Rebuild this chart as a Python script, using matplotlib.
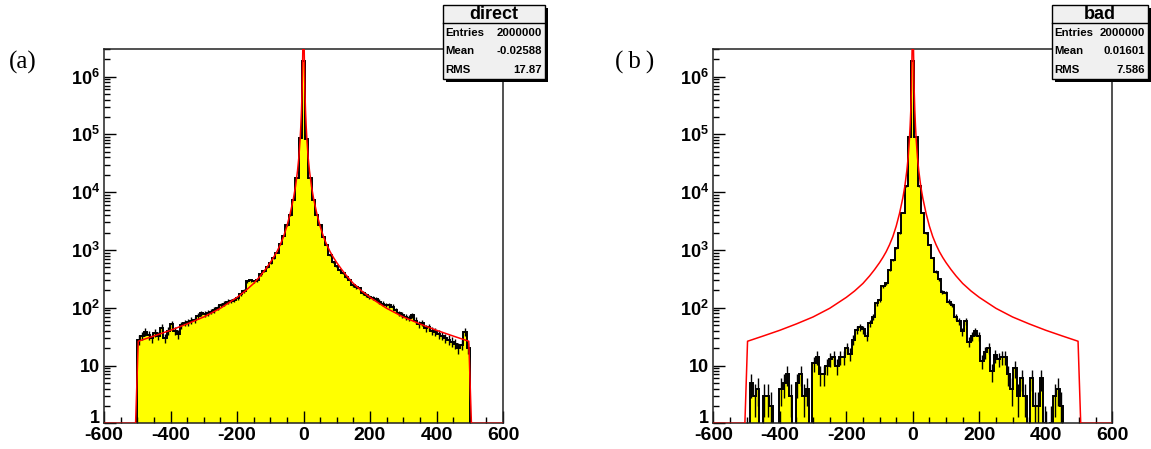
import numpy as np
import matplotlib
matplotlib.use("Agg")
import matplotlib.pyplot as plt
import matplotlib.transforms as mtransforms
from matplotlib.patches import Rectangle
from matplotlib.lines import Line2D
from matplotlib.ticker import FixedLocator, FixedFormatter, MultipleLocator, LogLocator, NullFormatter

plt.rcParams["font.family"] = ["Liberation Sans", "DejaVu Sans"]
plt.rcParams["mathtext.fontset"] = "custom"
plt.rcParams["mathtext.rm"] = "Liberation Sans"
plt.rcParams["mathtext.bf"] = "Liberation Sans:bold"
plt.rcParams["axes.unicode_minus"] = False

W, H = 1151, 449

# binning: 121 bins over [-600, 600], only the middle 101 are filled
N_BINS, X_LO, X_HI = 121, -600.0, 600.0
FIRST_BIN = 10

# bin contents, left to right (bin centres -496 ... +496)
direct_counts = [
    28, 33, 38, 34, 30, 37, 33, 45, 30, 40,
    52, 40, 35, 50, 55, 56, 60, 62, 72, 80,
    78, 82, 86, 92, 100, 112, 118, 128, 130, 138,
    150, 175, 195, 290, 300, 285, 300, 380, 430, 510,
    600, 720, 900, 1250, 1750, 2650, 4000, 7400, 17500, 86000,
    1830000,
    84000, 17500, 7400, 4040, 2700, 1700, 1230, 820, 630, 530,
    450, 400, 345, 302, 248, 230, 218, 178, 165, 155,
    150, 140, 128, 118, 112, 110, 104, 90, 80, 76,
    70, 66, 74, 60, 52, 55, 44, 46, 40, 38,
    35, 33, 30, 28, 26, 24, 20, 23, 38, 20,
]

bad_counts = [
    0, 5, 3, 4, 0, 3, 3, 2, 0, 0,
    4, 5, 7, 3, 0, 5, 7, 3, 4, 0,
    11, 14, 7, 7, 10, 13, 14, 10, 14, 14,
    20, 16, 28, 41, 46, 42, 32, 54, 70, 120,
    137, 233, 266, 455, 676, 1070, 1950, 4350, 12600, 89000,
    1830000,
    89000, 12600, 4350, 1950, 1230, 720, 423, 310, 190, 179,
    128, 112, 70, 58, 39, 58, 26, 32, 39, 32,
    12, 17, 20, 8, 15, 13, 14, 14, 7, 4,
    9, 3, 6, 3, 0, 6, 2, 2, 6, 1,
    0, 1, 3, 4, 2, 0, 0, 0, 0, 0,
]

# reference function (red), same in both panels
curve_x = [-600, -505, -497, -450, -400, -350, -300, -250, -200, -175,
           -150, -130, -115, -100, -90, -80, -70, -60, -50, -40,
           -30, -24, -18, -14, -10, -8, -6, -4, -2, 0,
           2, 4, 6, 8, 10, 14, 18, 24, 30, 40,
           50, 60, 70, 80, 90, 100, 115, 130, 150, 175,
           200, 250, 300, 350, 400, 450, 497, 505, 600]
curve_y = [1, 1, 26.3, 32.4, 40.7, 52.5, 69.2, 97.7, 151, 195,
           263, 355, 457, 603, 741, 933, 1230, 1700, 2570, 4270,
           7940, 12600, 23400, 39800, 85100, 141000, 263000, 631000, 3160000, 10000000,
           3160000, 631000, 263000, 141000, 85100, 39800, 23400, 12600, 7940, 4270,
           2570, 1700, 1230, 933, 741, 603, 457, 355, 263, 195,
           151, 97.7, 69.2, 52.5, 40.7, 32.4, 26.3, 1, 1]

y_major = [1, 10, 1e2, 1e3, 1e4, 1e5, 1e6]
y_labels = ["1", "10"] + [r"$\mathbf{10^{%d}}$" % n for n in range(2, 7)]

panel_tags = ["(a)", "(\u2009b\u2009)"]
stat_titles = ["direct", "bad"]
stat_names = ["Entries", "Mean", "RMS"]
stat_direct = ["2000000", "-0.02588", "17.87"]
stat_bad = ["2000000", "0.01601", "7.586"]


def fx(x):
    return x / W


def fy(y):
    return 1 - y / H


def draw_hist(ax, counts):
    counts = np.asarray(counts, dtype=float)
    edges = np.linspace(X_LO, X_HI, N_BINS + 1)[FIRST_BIN:FIRST_BIN + len(counts) + 1]
    shown = np.where(counts > 0, counts, 1e-3)
    ax.stairs(shown, edges, baseline=1e-3, fill=True, color="#ffff00", lw=0, zorder=1)
    ax.stairs(shown, edges, baseline=1e-3, color="black", lw=1.4, zorder=2)
    centers = 0.5 * (edges[1:] + edges[:-1])
    m = counts > 0
    err = np.sqrt(counts[m])
    ax.vlines(centers[m], np.maximum(counts[m] - err, 1e-3), counts[m] + err,
              color="black", lw=1, zorder=2)
    ax.plot(curve_x, curve_y, color="red", lw=1.1, zorder=4)


def style_axes(ax):
    ax.set_yscale("log")
    ax.set_xlim(X_LO, X_HI)
    ax.set_ylim(1, 3.0e6)
    ax.xaxis.set_major_locator(MultipleLocator(200))
    ax.xaxis.set_minor_locator(MultipleLocator(50))
    ax.yaxis.set_major_locator(FixedLocator(y_major))
    ax.yaxis.set_major_formatter(FixedFormatter(y_labels))
    ax.yaxis.set_minor_locator(LogLocator(base=10, subs=np.arange(2, 10), numticks=20))
    ax.yaxis.set_minor_formatter(NullFormatter())
    ax.tick_params(which="both", direction="in", top=False, right=False, color="black")
    ax.tick_params(which="major", length=8.5, width=1)
    ax.tick_params(which="minor", length=4, width=1)
    ax.tick_params(axis="x", labelsize=14, pad=3)
    ax.tick_params(axis="y", labelsize=13, pad=3)
    for lab in ax.get_xticklabels() + ax.get_yticklabels():
        lab.set_fontweight("bold")
    # lift the "1" label a little so it clears the "-600" below it
    lab1 = ax.get_yticklabels()[0]
    lab1.set_transform(lab1.get_transform() +
                       mtransforms.ScaledTranslation(0, 5 / 72, ax.figure.dpi_scale_trans))
    for sp in ax.spines.values():
        sp.set_linewidth(1.1)
        sp.set_color("#222222")
        sp.set_zorder(3)


def stats_box(fig, x0, x1, title, values):
    y0, y1 = 5, 79
    fig.add_artist(Rectangle((fx(x0 + 3), fy(y1 + 3)), fx(x1 - x0), (y1 - y0) / H,
                             transform=fig.transFigure, facecolor="black", edgecolor="none", zorder=10))
    fig.add_artist(Rectangle((fx(x0), fy(y1)), fx(x1 - x0), (y1 - y0) / H,
                             transform=fig.transFigure, facecolor="#f0f0f0", edgecolor="black",
                             lw=1, zorder=11))
    fig.add_artist(Line2D([fx(x0), fx(x1)], [fy(23), fy(23)], transform=fig.transFigure,
                          color="black", lw=1, zorder=12))
    fig.text(fx((x0 + x1) / 2), fy(14.5), title, ha="center", va="center",
             fontsize=13, fontweight="bold", zorder=13)
    for name, val, yy in zip(stat_names, values, [33, 51, 70]):
        fig.text(fx(x0 + 3), fy(yy), name, ha="left", va="center",
                 fontsize=8.2, fontweight="bold", zorder=13)
        fig.text(fx(x1 - 3), fy(yy), val, ha="right", va="center",
                 fontsize=8.2, fontweight="bold", zorder=13)


fig = plt.figure(figsize=(W / 100, H / 100), dpi=100)
ax_a = fig.add_axes([fx(104), fy(423.3), fx(399), 374.3 / H])
ax_b = fig.add_axes([fx(713.3), fy(423.3), fx(399), 374.3 / H])

for ax, counts in [(ax_a, direct_counts), (ax_b, bad_counts)]:
    draw_hist(ax, counts)
    style_axes(ax)

fig.text(fx(23), fy(62), panel_tags[0], family=["Liberation Serif", "DejaVu Serif"],
         fontsize=18, ha="center", va="center")
fig.text(fx(635), fy(62), panel_tags[1], family=["Liberation Serif", "DejaVu Serif"],
         fontsize=18, ha="center", va="center")

stats_box(fig, 442.7, 545, stat_titles[0], stat_direct)
stats_box(fig, 1051.7, 1147.7, stat_titles[1], stat_bad)

fig.savefig("out.png", dpi=100)
